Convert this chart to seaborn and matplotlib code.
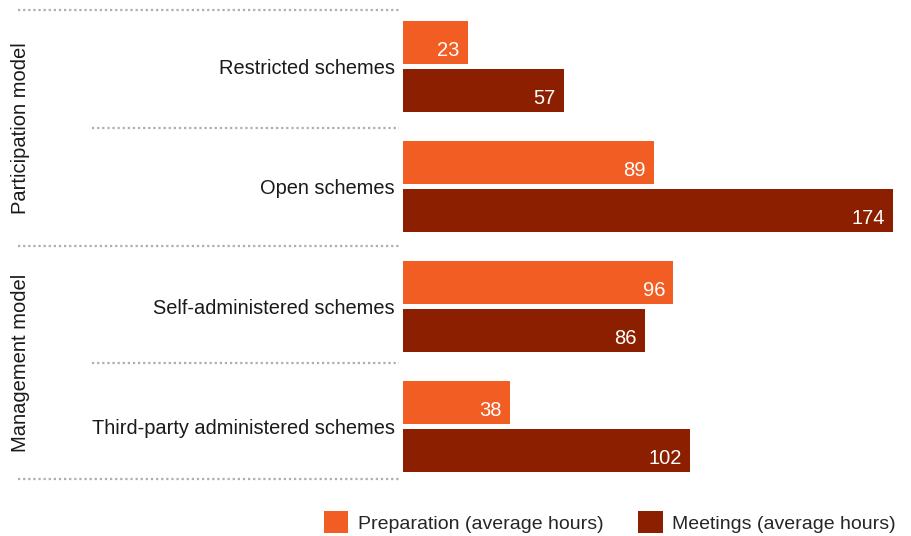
import pandas as pd
import seaborn as sns
import matplotlib.pyplot as plt
from matplotlib.patches import Patch

# values
schemes = ['Restricted schemes', 'Open schemes', 'Self-administered schemes',
           'Third-party administered schemes']
groups = ['Participation model', 'Management model']
series = ['Preparation (average hours)', 'Meetings (average hours)']
preparation = [23, 89, 96, 38]
meetings = [57, 174, 86, 102]

colors = ['#F15D22', '#8B1F00']

df = pd.DataFrame({
    'scheme': schemes * 2,
    'hours': preparation + meetings,
    'series': [series[0]] * 4 + [series[1]] * 4,
})

sns.set_style('white')
plt.rcParams['font.family'] = ['Liberation Sans', 'DejaVu Sans']

fig = plt.figure(figsize=(9.12, 5.36), dpi=100)
ax = fig.add_axes([403 / 912, 1 - 479.3 / 536, 490 / 912, 469.3 / 536])

sns.barplot(data=df, y='scheme', x='hours', hue='series', orient='h',
            palette=colors, width=0.8, gap=0.09, saturation=1,
            linewidth=0, legend=False, ax=ax)

ax.set_xlim(0, max(meetings))
ax.set_ylim(3.44, -0.47)
sns.despine(ax=ax, left=True, bottom=True)
ax.set_xticks([])
ax.set_xlabel('')
ax.set_ylabel('')
ax.tick_params(axis='y', length=0, pad=6, labelsize=14.4, labelcolor='#1a1a1a')

# value labels inside bar ends
for p in ax.patches:
    w = p.get_width()
    if w <= 0:
        continue
    ax.annotate(f'{w:.0f}', (w, p.get_y() + p.get_height()),
                xytext=(-6, 3), textcoords='offset points',
                ha='right', va='bottom', color='white', fontsize=14.5)

# dotted separators reaching into the label area
trans = ax.get_yaxis_transform()
for y, x0 in [(-0.47, -0.786), (0.51, -0.635), (1.5, -0.786),
              (2.47, -0.635), (3.44, -0.786)]:
    ax.plot([x0, -0.008], [y, y], transform=trans, clip_on=False,
            color='#b5aca3', lw=1.6, linestyle=(0, (1, 1.3)))

# group labels
for label, y in zip(groups, [0.51, 2.47]):
    ax.text(-0.78, y, label, transform=trans, rotation=90, ha='center',
            va='center', fontsize=14.5, color='#1a1a1a')

handles = [Patch(color=c, linewidth=0) for c in colors]
fig.legend(handles, series, loc='center right', bbox_to_anchor=(0.991, 1 - 522 / 536),
           ncol=2, frameon=False, fontsize=14, handlelength=1.25, handleheight=1.3,
           handletextpad=0.5, columnspacing=1.8, borderaxespad=0)

fig.savefig('out.png', dpi=100)
